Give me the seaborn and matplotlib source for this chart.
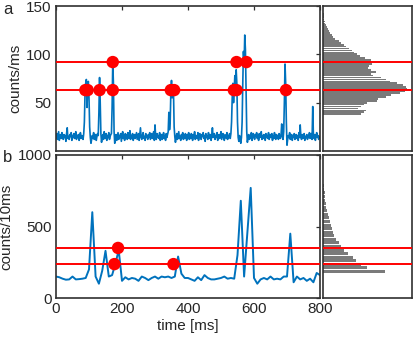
import matplotlib
matplotlib.use("Agg")
import matplotlib.pyplot as plt
import seaborn as sns
import numpy as np

# ---- data ----
# (a) 1 ms-binned trace, sampled every 2 ms
trace_a = [
    14, 18, 12, 16, 20, 11, 15, 17, 13, 19, 15, 12, 17, 14, 16, 10, 18, 24, 13, 15,
    12, 17, 15, 19, 11, 16, 14, 18, 13, 15, 20, 12, 16, 14, 17, 11, 15, 19, 13, 16,
    15, 12, 18, 30, 60, 70, 74, 45, 66, 72, 55, 25, 14, 8, 12, 16, 13, 19, 12, 15,
    17, 11, 15, 18, 16, 40, 76, 50, 18, 9, 14, 17, 12, 20, 15, 13, 18, 11, 16, 14,
    19, 12, 15, 17, 18, 45, 92, 70, 20, 8, 13, 17, 11, 15, 19, 12, 16, 14, 18, 10,
    15, 20, 13, 16, 11, 18, 14, 17, 12, 19, 15, 13, 21, 12, 16, 14, 18, 11, 15, 17,
    13, 16, 19, 12, 15, 18, 11, 17, 24, 14, 12, 16, 19, 13, 15, 11, 18, 14, 16, 12,
    17, 14, 19, 12, 15, 18, 13, 16, 20, 11, 27, 15, 12, 18, 14, 16, 13, 19, 11, 15,
    17, 12, 15, 19, 13, 16, 11, 18, 14, 17, 20, 40, 22, 30, 60, 73, 55, 68, 62, 25,
    15, 9, 14, 18, 12, 16, 20, 13, 15, 11, 17, 14, 19, 12, 16, 13, 18, 15, 11, 17,
    14, 19, 12, 16, 13, 18, 15, 11, 17, 14, 20, 12, 16, 15, 13, 19, 11, 16, 18, 14,
    12, 17, 15, 19, 13, 16, 10, 18, 14, 16, 12, 19, 15, 13, 17, 11, 16, 24, 14, 15,
    18, 12, 16, 14, 19, 11, 15, 17, 13, 16, 20, 12, 15, 18, 14, 11, 17, 15, 13, 19,
    12, 16, 14, 18, 13, 18, 30, 55, 70, 50, 65, 78, 60, 84, 70, 30, 14, 10, 16, 12,
    8, 14, 30, 70, 103, 90, 120, 105, 60, 20, 9, 14, 17, 12, 16, 13, 19, 11, 15, 18,
    14, 12, 17, 15, 19, 13, 16, 11, 18, 14, 15, 20, 12, 16, 13, 17, 15, 11, 18, 14,
    16, 13, 19, 12, 15, 17, 14, 18, 11, 16, 13, 19, 15, 12, 17, 14, 16, 12, 18, 15,
    13, 17, 28, 15, 12, 20, 50, 90, 70, 30, 6, 12, 16, 14, 19, 12, 15, 17, 11, 16,
    14, 18, 12, 15, 17, 13, 16, 11, 19, 14, 27, 15, 12, 17, 13, 16, 18, 11, 15, 14,
    17, 12, 16, 14, 19, 13, 15, 18, 12, 46, 16, 13, 17, 11, 15, 19, 14, 16, 12, 15,
]
time_a = np.arange(len(trace_a)) * 2

# (b) 10 ms-binned trace
trace_b = [
    150, 145, 135, 128, 130, 150, 130, 132, 135, 140,
    200, 600, 150, 100, 190, 330, 150, 160, 240, 335,
    120, 145, 130, 140, 135, 120, 150, 140, 125, 140,
    150, 135, 150, 145, 150, 140, 150, 290, 170, 140,
    140, 130, 120, 145, 125, 160, 140, 130, 130, 135,
    140, 150, 135, 140, 135, 300, 680, 150, 460, 770,
    140, 100, 130, 140, 130, 150, 130, 135, 130, 150,
    150, 450, 110, 150, 130, 140, 120, 135, 110, 175,
    160,
]
time_b = np.arange(len(trace_b)) * 10

# thresholds and detected events
thr_a = [63, 92]
thr_b = [237, 350]
events_a_low = [89, 96, 132, 172, 348, 358, 539, 547, 697]
events_a_high = [172, 547, 577]
events_b_low = [177, 356]
events_b_high = [188]

# intensity histograms (bin centres and counts)
hist_a_bins = np.arange(38, 145, 2)
hist_a_counts = [
    112, 122, 126, 104, 112, 122, 130, 158, 162, 186,
    200, 226, 240, 248, 244, 236, 218, 196, 185, 170,
    148, 140, 156, 140, 132, 136, 145, 140, 142, 125,
    108, 100, 92, 84, 78, 68, 62, 54, 46, 36,
    30, 26, 22, 18, 15, 12, 9, 7, 6, 4,
    4, 3, 2, 1,
]
hist_b_bins = np.arange(185, 786, 25)
hist_b_counts = [
    183, 129, 111, 96, 87, 75, 63, 54, 48, 39,
    33, 30, 27, 24, 21, 18, 15, 12, 9, 9,
    6, 6, 5, 3, 2,
]

# ---- style ----
sns.set_style("white")
plt.rcParams['font.family'] = ['Liberation Sans', 'DejaVu Sans']
plt.rcParams['font.size'] = 11

blue = '#0072BD'
red = '#FF0000'
grey = '#7a7a7a'
frame = '#303030'

fig = plt.figure(figsize=(4.14, 3.37), dpi=100)
W, H = 414, 337


def add_ax(x0, y0, x1, y1):
    return fig.add_axes([x0 / W, 1 - y1 / H, (x1 - x0) / W, (y1 - y0) / H])


ax_a = add_ax(56, 6, 320, 151)
ax_ah = add_ax(323, 6, 412, 151)
ax_b = add_ax(56, 155, 320, 298)
ax_bh = add_ax(323, 155, 412, 298)

for ax in (ax_a, ax_ah, ax_b, ax_bh):
    for sp in ax.spines.values():
        sp.set_color(frame)
        sp.set_linewidth(1.2)
        sp.set_visible(True)

# main traces
sns.lineplot(x=time_a, y=trace_a, ax=ax_a, color=blue, linewidth=1.2)
sns.lineplot(x=time_b, y=trace_b, ax=ax_b, color=blue, linewidth=1.4)

for ax, thr in ((ax_a, thr_a), (ax_ah, thr_a), (ax_b, thr_b), (ax_bh, thr_b)):
    for t in thr:
        ax.axhline(t, color=red, linewidth=1.4, zorder=4)

sns.scatterplot(x=events_a_low, y=[thr_a[0]] * len(events_a_low), ax=ax_a,
                color=red, s=80, edgecolor='none', zorder=5)
sns.scatterplot(x=events_a_high, y=[thr_a[1]] * len(events_a_high), ax=ax_a,
                color=red, s=80, edgecolor='none', zorder=5)
sns.scatterplot(x=events_b_low, y=[thr_b[0]] * len(events_b_low), ax=ax_b,
                color=red, s=80, edgecolor='none', zorder=5)
sns.scatterplot(x=events_b_high, y=[thr_b[1]] * len(events_b_high), ax=ax_b,
                color=red, s=80, edgecolor='none', zorder=5)

# histograms
ax_ah.barh(hist_a_bins, hist_a_counts, height=1.75, color=grey, linewidth=0)
ax_bh.barh(hist_b_bins, hist_b_counts, height=21, color=grey, linewidth=0)

ax_a.set_xlim(0, 800)
ax_a.set_ylim(0, 150)
ax_b.set_xlim(0, 800)
ax_b.set_ylim(0, 1000)
for ax, lim in ((ax_ah, 150), (ax_bh, 1000)):
    ax.set_ylim(0, lim)
    ax.set_xlim(0, 262)
    ax.set_xticks([])
    ax.set_yticks([])

ax_a.set_yticks([50, 100, 150])
ax_b.set_yticks([0, 500, 1000])
for ax in (ax_a, ax_b):
    ax.set_xticks([0, 200, 400, 600, 800])
    ax.tick_params(direction='in', length=3, width=0.9, color=frame,
                   top=True, right=True, labelsize=11, pad=3)
ax_a.set_xticklabels([])

ax_a.set_ylabel('counts/ms', fontsize=11, labelpad=3)
ax_b.set_ylabel('counts/10ms', fontsize=11, labelpad=3)
ax_b.set_xlabel('time [ms]', fontsize=11, labelpad=2)

fig.text(3 / W, 1 - 10 / H, 'a', fontsize=12, va='center', ha='left')
fig.text(3 / W, 1 - 157 / H, 'b', fontsize=12, va='center', ha='left')

fig.savefig('out.png', dpi=100)
plt.close(fig)
